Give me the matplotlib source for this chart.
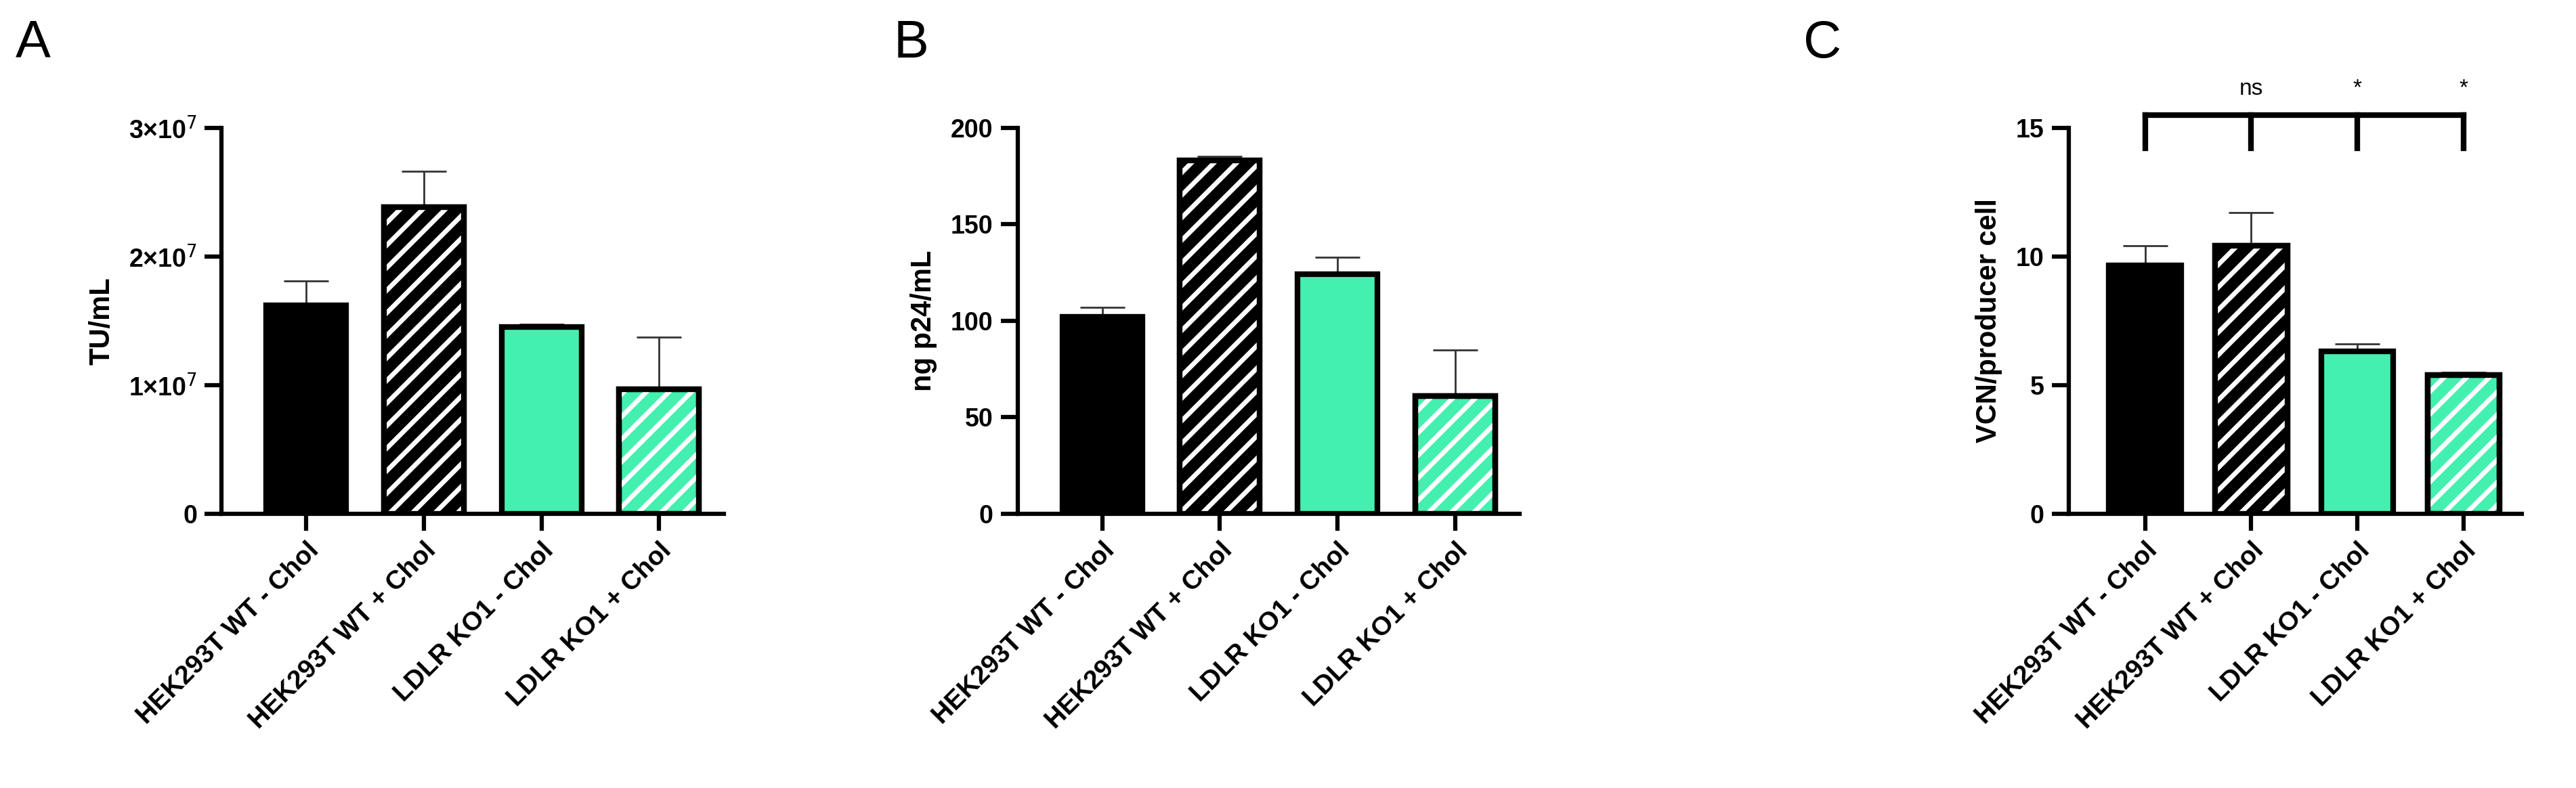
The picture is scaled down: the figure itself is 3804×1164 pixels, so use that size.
import matplotlib
matplotlib.use("Agg")
import matplotlib.pyplot as plt
from matplotlib.ticker import FixedLocator

groups = ["HEK293T WT - Chol", "HEK293T WT + Chol", "LDLR KO1 - Chol", "LDLR KO1 + Chol"]
tu_mean = [1.62e7, 2.38e7, 1.45e7, 0.97e7]
tu_sd = [0.19e7, 0.28e7, 0.02e7, 0.40e7]
p24_mean = [102, 183, 124, 61]
p24_sd = [5, 2, 9, 24]
vcn_mean = [9.65, 10.4, 6.3, 5.4]
vcn_sd = [0.75, 1.3, 0.3, 0.1]
sig_labels = ["ns", "*", "*"]

GREEN = "#44F0AF"
faces = ["black", "black", GREEN, GREEN]
hatched = [False, True, False, True]

plt.rcParams["font.family"] = ["Liberation Sans", "DejaVu Sans"]
plt.rcParams["hatch.linewidth"] = 5.0

fig = plt.figure(figsize=(38.04, 11.64), dpi=100)


def bar_panel(rect, means, sds, ylim, ticks, ticklabels, ylabel, letter, letter_x):
    ax = fig.add_axes(rect)
    x = range(len(means))
    for i in x:
        ax.errorbar(i, means[i], yerr=[[0], [sds[i]]], fmt="none", ecolor="#333333",
                    elinewidth=2, capsize=24, capthick=2, zorder=1)
        ax.bar(i, means[i], width=0.68, color=faces[i],
               edgecolor="black", linewidth=6, zorder=2)
        if hatched[i]:
            ax.bar(i, means[i], width=0.68, color="none", edgecolor="white",
                   hatch="/", linewidth=0, zorder=3)
            ax.bar(i, means[i], width=0.68, color="none", edgecolor="black",
                   linewidth=6, zorder=4)
    ax.set_xlim(-0.72, 3.55)
    ax.set_ylim(*ylim)
    ax.yaxis.set_major_locator(FixedLocator(ticks))
    ax.set_yticklabels(ticklabels, fontsize=27, fontweight="bold")
    ax.set_xticks(list(x))
    ax.set_xticklabels(groups, rotation=45, ha="right", rotation_mode="anchor",
                       fontsize=28, fontweight="bold")
    ax.set_ylabel(ylabel, fontsize=30, fontweight="bold", labelpad=14)
    for s in ("top", "right"):
        ax.spines[s].set_visible(False)
    for s in ("left", "bottom"):
        ax.spines[s].set_linewidth(4.5)
    ax.tick_params(width=4.5, length=18, pad=8)
    fig.text(letter_x, 0.945, letter, fontsize=56, va="center")
    return ax


bar_panel([0.086, 0.348, 0.195, 0.49], tu_mean, tu_sd, (0, 3e7), [0, 1e7, 2e7, 3e7],
          ["0", r"1×10$^7$", r"2×10$^7$", r"3×10$^7$"], "TU/mL", "A", 0.006)
bar_panel([0.395, 0.348, 0.195, 0.49], p24_mean, p24_sd, (0, 200), [0, 50, 100, 150, 200],
          ["0", "50", "100", "150", "200"], "ng p24/mL", "B", 0.347)
axc = bar_panel([0.803, 0.348, 0.176, 0.49], vcn_mean, vcn_sd, (0, 15), [0, 5, 10, 15],
                ["0", "5", "10", "15"], "VCN/producer cell", "C", 0.700)

# significance bracket above panel C
top, foot = 15.5, 14.2
axc.plot([0, 3], [top, top], color="black", lw=6, clip_on=False, solid_capstyle="projecting")
for i in range(4):
    axc.plot([i, i], [foot, top], color="black", lw=6, clip_on=False)
for i, lab in enumerate(sig_labels):
    axc.text(i + 1, 16.1, lab, ha="center", va="bottom", fontsize=24)

fig.savefig("out.png", dpi=100)
